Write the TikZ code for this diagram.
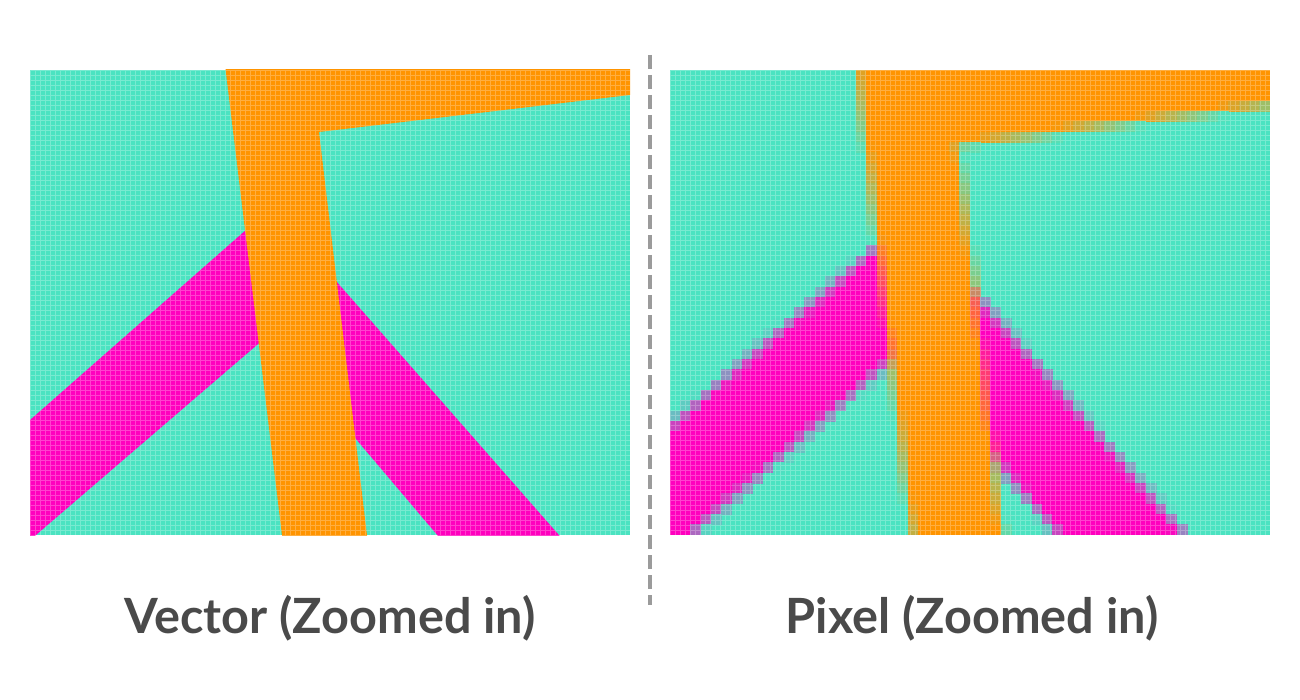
\documentclass[tikz,border=0pt]{standalone}
\usepackage{fontspec}
\setmainfont{Lato}
\definecolor{cteal}{HTML}{4BE3C1}
\definecolor{corange}{HTML}{FF9400}
\definecolor{cmagenta}{HTML}{FF00BE}
\definecolor{cgrey}{HTML}{9B9B9B}
\definecolor{ctext}{HTML}{4A4A4A}
\pgfmathdeclarefunction{ramp}{2}{\pgfmathparse{max(0,min(1,0.5+#1/#2))}}
\tikzset{
  panel/.style={fill=cteal},
  finegrid/.style={draw=white, draw opacity=0.25, line width=0.7pt, step=5pt},
  divider/.style={draw=cgrey, line width=4pt, dash pattern=on 14pt off 6pt},
  caption/.style={font=\fontsize{48.6}{56}\selectfont\bfseries, text=ctext},
}
\begin{document}
\begin{tikzpicture}[x=1pt, y=-1pt]
  \useasboundingbox (0,0) rectangle (1300,700);
  % left panel: the shapes as vectors
  \begin{scope}
    \clip (30,70) rectangle (630,535);
    \fill[panel] (30,70) rectangle (630,535);
    \fill[cmagenta] (-50,490.4) -- (271.5,207.5) -- (615.9,600) -- (492.3,600)
      -- (268.1,335.4) -- (-39.6,600) -- (-50,600) -- cycle;
    \fill[corange] (222,40) -- (660,40) -- (660,91.4) -- (319,132)
      -- (369.9,560) -- (285,560) -- cycle;
    \draw[finegrid] (30,70) grid (630,535);
  \end{scope}
  % right panel: the same scene sampled on a coarse pixel grid
  \pgfmathsetmacro{\cellw}{600/58}
  \pgfmathsetmacro{\cellh}{465/45}
  \fill[panel] (670,70) rectangle (1270,535);
  \foreach \r in {0,...,44} {
    \pgfmathsetmacro{\yc}{70+(\r+0.5)*\cellh}
    \pgfmathsetmacro{\xbl}{857+(\yc-70)*0.118}
    \pgfmathsetmacro{\xbr}{958+(\yc-145)*0.114}
    \pgfmathsetmacro{\xband}{958+(145-\yc)/0.128}
    \pgfmathsetmacro{\xua}{670+(427-\yc)/0.87}
    \pgfmathsetmacro{\xla}{693+(533-\yc)/0.87}
    \pgfmathsetmacro{\xub}{972+(\yc-290)/1.15}
    \pgfmathsetmacro{\xlb}{1057+(\yc-533)/1.17}
    \foreach \c in {0,...,57} {
      \pgfmathsetmacro{\xc}{670+(\c+0.5)*\cellw}
      \pgfmathsetmacro{\cmag}{min(ramp(\xc-\xua,22.2), ramp(\xub-\xc,19.3),
        1-min(ramp(\xc-\xla,22.2), ramp(\xlb-\xc,19.2)))}
      \pgfmathsetmacro{\corg}{min(ramp(\xc-\xbl,11.6),
        max(ramp(\xbr-\xc,11.6), ramp(\xband-\xc,91)))}
      \pgfmathtruncatemacro{\pmag}{round(100*\cmag)}
      \pgfmathtruncatemacro{\pnot}{100-round(100*\corg)}
      \pgfmathtruncatemacro{\need}{(\pmag>0 || \pnot<100) ? 1 : 0}
      \ifnum\need>0
        \fill[cmagenta!\pmag!cteal!\pnot!corange]
          ({670+\c*\cellw-0.3},{70+\r*\cellh-0.3}) rectangle ++(10.95,10.93);
      \fi
    }
  }
  \draw[finegrid] (670,70) grid (1270,535);
  % divider between the panels
  \coordinate (divtop) at (650,55);
  \coordinate (divbot) at (650,605);
  \draw[divider] (divtop) -- (divbot);
  % captions
  \node[caption] (veclabel) at (330,618) {Vector (Zoomed in)};
  \node[caption] (pixlabel) at (972,618) {Pixel (Zoomed in)};
\end{tikzpicture}
\end{document}
